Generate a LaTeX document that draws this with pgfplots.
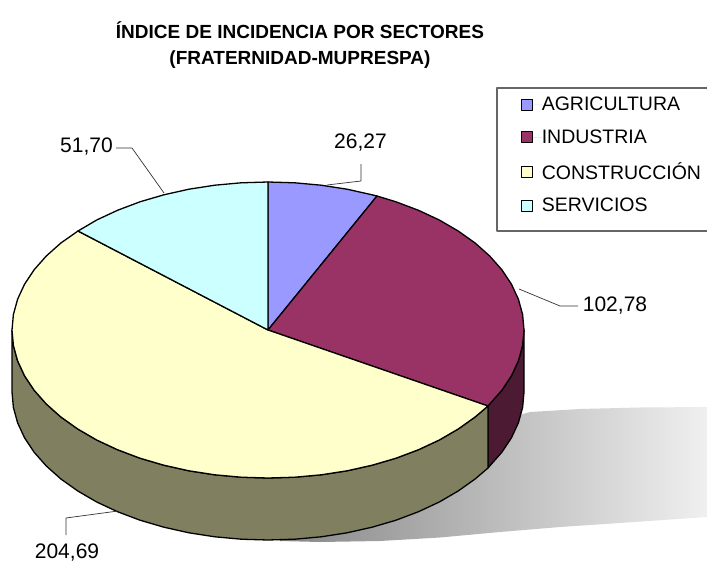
\documentclass[border=0pt]{standalone}
\usepackage{fontspec}
\setmainfont{Liberation Sans}
\usepackage{pgfplots}
\pgfplotsset{compat=1.18}
\definecolor{cAgr}{HTML}{9999FF}
\definecolor{cInd}{HTML}{993366}
\definecolor{cCon}{HTML}{FFFFCC}
\definecolor{cSer}{HTML}{CCFFFF}
\definecolor{sCon}{HTML}{808060}
\definecolor{sInd}{HTML}{4D1A33}
\begin{document}
\begin{tikzpicture}
\begin{axis}[name=a,
  scale only axis, width=707pt, height=562pt,
  xmin=0, xmax=707, ymin=0, ymax=562, y dir=reverse,
  hide axis, clip=true,
  legend style={draw=none, fill=none, at={(axis cs:521,97)}, anchor=north west,
    font=\fontsize{19.5}{22}\selectfont, row sep=17.5pt, inner sep=0pt,
    nodes={inner sep=0pt}},
  legend cell align=left,
  legend image code/.code={\draw[#1,line width=1.2pt] (0pt,-5.5pt) rectangle (11pt,5.5pt); \path[draw=none] (0pt,0pt) -- (20pt,0pt);},
  every axis plot/.append style={line join=round},
]
% shadow
\addplot[forget plot, draw=none, left color=black!47, right color=black!6] coordinates {
(280,541)(320,542)(380,541)(440,537.5)(500,532)(560,527)(620,523)(707,517)
(707,407)(640,407.5)(580,409)(530,412)(400,450)(280,500)} --cycle;
% sides
\addplot[forget plot, fill=sInd, draw=black, line width=1.3pt] coordinates {
(524,330)(522.6,345.5)(518.4,360.8)(511.5,375.7)(501.9,390.2)(489.7,404)(488,406)
(488,468)(489.7,466)(501.9,452.2)(511.5,437.7)(518.4,422.8)(522.6,407.5)(524,392)} --cycle;
\addplot[forget plot, fill=sCon, draw=black, line width=1.3pt] coordinates {
(488,406)(475.1,417)(458.2,429)(439.3,440)(418.5,449.7)(396,458.2)(372.1,465.2)(347.1,470.8)(321.2,474.8)(294.8,477.2)(268,478)(241.2,477.2)(214.8,474.8)(188.9,470.8)(163.9,465.2)(140,458.2)(117.5,449.7)(96.7,440)(77.8,429)(60.9,417)(46.3,404)(34.1,390.2)(24.5,375.7)(17.6,360.8)(13.4,345.5)(12,330)
(12,392)(13.4,407.5)(17.6,422.8)(24.5,437.7)(34.1,452.2)(46.3,466)(60.9,479)(77.8,491)(96.7,502)(117.5,511.7)(140,520.2)(163.9,527.2)(188.9,532.8)(214.8,536.8)(241.2,539.2)(268,540)(294.8,539.2)(321.2,536.8)(347.1,532.8)(372.1,527.2)(396,520.2)(418.5,511.7)(439.3,502)(458.2,491)(475.1,479)(488,468)} --cycle;
% top wedges
\addplot[fill=cAgr, draw=black, line width=1.3pt] coordinates {
(268,330)(268,182)(294.8,182.8)(321.2,185.2)(347.1,189.2)(372.1,194.8)(377,196)} --cycle;
\addlegendentry{AGRICULTURA}
\addplot[fill=cInd, draw=black, line width=1.3pt] coordinates {
(268,330)(377,196)(396,201.8)(418.5,210.3)(439.3,220)(458.2,231)(475.1,243)(489.7,256)(501.9,269.8)(511.5,284.3)(518.4,299.2)(522.6,314.5)(524,330)(522.6,345.5)(518.4,360.8)(511.5,375.7)(501.9,390.2)(489.7,404)(488,406)} --cycle;
\addlegendentry{INDUSTRIA}
\addplot[fill=cCon, draw=black, line width=1.3pt] coordinates {
(268,330)(488,406)(475.1,417)(458.2,429)(439.3,440)(418.5,449.7)(396,458.2)(372.1,465.2)(347.1,470.8)(321.2,474.8)(294.8,477.2)(268,478)(241.2,477.2)(214.8,474.8)(188.9,470.8)(163.9,465.2)(140,458.2)(117.5,449.7)(96.7,440)(77.8,429)(60.9,417)(46.3,404)(34.1,390.2)(24.5,375.7)(17.6,360.8)(13.4,345.5)(12,330)(13.4,314.5)(17.6,299.2)(24.5,284.3)(34.1,269.8)(46.3,256)(60.9,243)(78,231)} --cycle;
\addlegendentry{CONSTRUCCIÓN}
\addplot[fill=cSer, draw=black, line width=1.3pt] coordinates {
(268,330)(78,231)(96.7,220)(117.5,210.3)(140,201.8)(163.9,194.8)(188.9,189.2)(214.8,185.2)(241.2,182.8)(268,182)} --cycle;
\addlegendentry{SERVICIOS}
% leaders
\addplot[forget plot, black!80, line width=0.7pt] coordinates {(116,148)(132,148)(164,193)};
\addplot[forget plot, black!80, line width=0.7pt] coordinates {(361,164)(361,181)(327,185)};
\addplot[forget plot, black!80, line width=0.7pt] coordinates {(519,289)(560,306)(578,306)};
\addplot[forget plot, black!80, line width=0.7pt] coordinates {(66,535)(66,518)(118,511)};
% legend frame
\addplot[forget plot, black!60, line width=1.2pt] coordinates {(707,88)(497,88)(497,231)(707,231)};
% texts
\node[align=center, font=\fontsize{19}{26}\selectfont\bfseries, anchor=center] at (axis cs:300,45) {ÍNDICE DE INCIDENCIA POR SECTORES\\(FRATERNIDAD-MUPRESPA)};
\def\vf{\fontsize{21}{24}\selectfont}
\node[font=\vf, inner sep=0pt] at (axis cs:86.5,147) {51,70};
\node[font=\vf, inner sep=0pt] at (axis cs:360.5,143) {26,27};
\node[font=\vf, inner sep=0pt] at (axis cs:615,306) {102,78};
\node[font=\vf, inner sep=0pt] at (axis cs:67,553) {204,69};
\end{axis}
\path (a.south west) rectangle (a.north east);
\end{tikzpicture}
\end{document}
